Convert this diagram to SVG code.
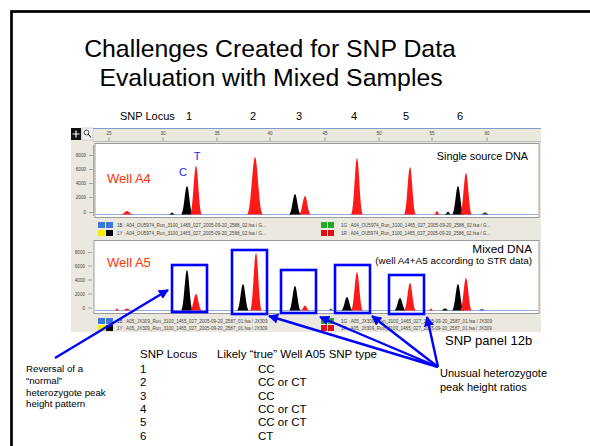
<svg xmlns="http://www.w3.org/2000/svg" width="590" height="446" viewBox="0 0 590 446">
<style>
.t{font-family:"Liberation Sans",Arial,sans-serif;fill:#000}
.tiny{font-family:"Liberation Sans",Arial,sans-serif;font-size:4.6px;fill:#444}
.pk{fill:#000}
.pr{fill:#ff1a1a}
.box{fill:none;stroke:#0000ff;stroke-width:2.6}
.arr{stroke:#0000ff;stroke-width:2.4;fill:none;marker-end:url(#ah)}
.panel{fill:#fff;stroke:#9a9a9a;stroke-width:1}
.base{stroke:#8fb0e0;stroke-width:1}
</style>
<defs>
<marker id="ah" viewBox="0 0 10 10" refX="9" refY="5" markerWidth="4.2" markerHeight="4.2" orient="auto" markerUnits="strokeWidth">
<path d="M0,0 L10,5 L0,10 Z" fill="#0000ff"/>
</marker>
</defs>
<rect width="590" height="446" fill="#fff"/>
<rect x="11.5" y="11.5" width="620" height="480" fill="none" stroke="#000" stroke-width="2.7"/>

<g id="title">
<text class="t" x="270" y="57" font-size="24.8" text-anchor="middle">Challenges Created for SNP Data</text>
<text class="t" x="271" y="86" font-size="24.8" text-anchor="middle">Evaluation with Mixed Samples</text>
</g>

<g id="locus-labels" class="t" font-size="11">
<text class="t" x="120" y="120">SNP Locus</text>
<text class="t" x="189" y="120" text-anchor="middle">1</text>
<text class="t" x="253" y="120" text-anchor="middle">2</text>
<text class="t" x="299" y="120" text-anchor="middle">3</text>
<text class="t" x="354" y="120" text-anchor="middle">4</text>
<text class="t" x="406" y="120" text-anchor="middle">5</text>
<text class="t" x="460" y="120" text-anchor="middle">6</text>
</g>

<g id="screenshot">
<rect x="71" y="128" width="470" height="204" fill="#ebe9df"/>
<line x1="93" y1="128.5" x2="541" y2="128.5" stroke="#7f9bc8" stroke-width="1"/>
<rect x="71" y="128" width="10" height="12" fill="#111"/>
<path d="M76,130.5 V137.5 M72.5,134 H79.5" stroke="#fff" stroke-width="1.2"/>
<rect x="82" y="128" width="11" height="12" fill="#f4f4f4" stroke="#aaa" stroke-width="0.5"/>
<circle cx="86.5" cy="132.5" r="2.4" fill="none" stroke="#333" stroke-width="0.9"/>
<line x1="88.2" y1="134.2" x2="91" y2="137.5" stroke="#333" stroke-width="1.1"/>
<line x1="93" y1="141.5" x2="541" y2="141.5" stroke="#b5b3aa" stroke-width="0.8"/>
<g class="tiny">
<text x="109" y="135" text-anchor="middle">25</text>
<text x="163" y="135" text-anchor="middle">30</text>
<text x="217" y="135" text-anchor="middle">35</text>
<text x="270" y="135" text-anchor="middle">40</text>
<text x="325" y="135" text-anchor="middle">45</text>
<text x="379" y="135" text-anchor="middle">50</text>
<text x="432" y="135" text-anchor="middle">55</text>
<text x="487" y="135" text-anchor="middle">60</text>
</g>
<path d="M109,137.5V141 M163,137.5V141 M217,137.5V141 M270,137.5V141 M325,137.5V141 M379,137.5V141 M432,137.5V141 M487,137.5V141" stroke="#777" stroke-width="0.7"/>

<!-- upper panel -->
<rect class="panel" x="95" y="143.5" width="444" height="74"/>
<line x1="93.5" y1="145" x2="93.5" y2="216" stroke="#888" stroke-width="0.7"/>
<g class="tiny" text-anchor="end">
<text x="86" y="157">8000</text>
<text x="86" y="171">6000</text>
<text x="86" y="185">4000</text>
<text x="86" y="199">2000</text>
<text x="86" y="214">0</text>
</g>
<path d="M89,155.5H93 M89,169.5H93 M89,183.5H93 M89,197.5H93 M89,212.5H93" stroke="#888" stroke-width="0.7"/>
<line class="base" x1="96" y1="214.5" x2="538" y2="214.5"/>
<path class="pr" d="M120,214.5 C124,214.5 125,211 127,211 C129,211 130,214.5 134,214.5 Z"/>
<path class="pk" d="M168,214.5 C171,214.5 171,212.5 172,212.5 C173,212.5 173,214.5 176,214.5 Z"/>
<path class="pk" d="M181,214.5 C184,214.5 185,186 187,186 C189,186 190,214.5 193,214.5 Z"/>
<path class="pr" d="M190,214.5 C193,214.5 194,166 196,166 C198,166 199,214.5 202,214.5 Z"/>
<path class="pr" d="M247,214.5 C251,214.5 252.5,157 255,157 C257.5,157 259,214.5 263,214.5 Z"/>
<path class="pk" d="M289,214.5 C292,214.5 293,194 295,194 C297,194 298,214.5 301,214.5 Z"/>
<path class="pr" d="M299,214.5 C302,214.5 303,196 305,196 C307,196 308,214.5 311,214.5 Z"/>
<path class="pr" d="M351,214.5 C354,214.5 355,158 357,158 C359,158 360,214.5 363,214.5 Z"/>
<path class="pr" d="M404,214.5 C407,214.5 408,167 410,167 C412,167 413,214.5 416,214.5 Z"/>
<path class="pr" d="M433,214.5 C436,214.5 436,211 437,211 C438,211 438,214.5 441,214.5 Z"/>
<path class="pk" d="M444,214.5 C447,214.5 447,211.5 448,211.5 C449,211.5 449,214.5 452,214.5 Z"/>
<path class="pk" d="M452,214.5 C455,214.5 456,186 458,186 C460,186 461,214.5 464,214.5 Z"/>
<path class="pr" d="M460,214.5 C463,214.5 464,173 466,173 C468,173 469,214.5 472,214.5 Z"/>
<path d="M480,214.5 C483,214.5 483,212.5 485,212.5 C487,212.5 487,214.5 490,214.5 Z" fill="#2a3a5a"/>

<!-- upper legend -->
<rect x="98" y="222" width="7" height="6" fill="#3f78d8"/>
<rect x="106" y="222" width="7" height="6" fill="#3f78d8"/>
<rect x="98" y="230" width="7" height="6" fill="#f0f000"/>
<rect x="106" y="230" width="7" height="6" fill="#000"/>
<rect x="321" y="222" width="6" height="6" fill="#22aa22"/>
<rect x="328" y="222" width="6" height="6" fill="#22aa22"/>
<rect x="321" y="230" width="6" height="6" fill="#dd1111"/>
<rect x="328" y="230" width="6" height="6" fill="#dd1111"/>
<g class="tiny">
<text x="117" y="227">1B : A04_OU5974_Run_3100_1465_027_2005-09-20_2588_02.fsa / G...</text>
<text x="117" y="235">1Y : A04_OU5974_Run_3100_1465_027_2005-09-20_2588_02.fsa / G...</text>
<text x="341" y="227">1G : A04_OU5974_Run_3100_1465_027_2005-09-20_2588_02.fsa / G...</text>
<text x="341" y="235">1R : A04_OU5974_Run_3100_1465_027_2005-09-20_2588_02.fsa / G...</text>
</g>

<!-- lower panel -->
<rect class="panel" x="94" y="240.5" width="445" height="73"/>
<g class="tiny" text-anchor="end">
<text x="85" y="254">8000</text>
<text x="85" y="267.5">6000</text>
<text x="85" y="281.5">4000</text>
<text x="85" y="295.5">2000</text>
<text x="85" y="309.5">0</text>
</g>
<path d="M88,252.5H92 M88,266H92 M88,280H92 M88,294H92 M88,308H92" stroke="#888" stroke-width="0.7"/>
<line class="base" x1="95" y1="310.5" x2="538" y2="310.5"/>
<path class="pr" d="M114,310.5 C116,310.5 116,308.5 117,308.5 C118,308.5 118,310.5 120,310.5 Z"/>
<path class="pr" d="M123,310.5 C125,310.5 125,308.5 127,308.5 C129,308.5 129,310.5 131,310.5 Z"/>
<path class="pk" d="M181,310.5 C184,310.5 185,270 187,270 C189,270 190,310.5 193,310.5 Z"/>
<path class="pr" d="M190,310.5 C193,310.5 194,294 196,294 C198,294 199,310.5 202,310.5 Z"/>
<path class="pk" d="M237,310.5 C240,310.5 241,284 243,284 C245,284 246,310.5 249,310.5 Z"/>
<path class="pr" d="M250,310.5 C253,310.5 254,253 256,253 C258,253 259,310.5 262,310.5 Z"/>
<path class="pk" d="M289,310.5 C292,310.5 293,286 295,286 C297,286 298,310.5 301,310.5 Z"/>
<path class="pr" d="M300,310.5 C303,310.5 303.5,305.5 305,305.5 C306.5,305.5 307,310.5 310,310.5 Z"/>
<path d="M328,310.5 C330,310.5 330,308.5 331,308.5 C332,308.5 332,310.5 334,310.5 Z" fill="#3a5a9a"/>
<path class="pk" d="M341,310.5 C344,310.5 345,297 347,297 C349,297 350,310.5 353,310.5 Z"/>
<path class="pr" d="M351,310.5 C354,310.5 355,272 357,272 C359,272 360,310.5 363,310.5 Z"/>
<path class="pk" d="M394,310.5 C397,310.5 398,298 400,298 C402,298 403,310.5 406,310.5 Z"/>
<path class="pr" d="M404,310.5 C407,310.5 408,283 410,283 C412,283 413,310.5 416,310.5 Z"/>
<path class="pr" d="M428,310.5 C430,310.5 430,308.5 431,308.5 C432,308.5 432,310.5 434,310.5 Z"/>
<path class="pk" d="M441,310.5 C443,310.5 443,308.5 445,308.5 C447,308.5 447,310.5 449,310.5 Z"/>
<path class="pk" d="M452,310.5 C455,310.5 456,284 458,284 C460,284 461,310.5 464,310.5 Z"/>
<path class="pr" d="M460,310.5 C463,310.5 464,278 466,278 C468,278 469,310.5 472,310.5 Z"/>
<path d="M478,310.5 C480,310.5 480,309 482,309 C484,309 484,310.5 486,310.5 Z" fill="#3a5a9a"/>

<!-- lower legend -->
<rect x="98" y="318" width="7" height="6" fill="#3f78d8"/>
<rect x="106" y="318" width="7" height="6" fill="#3f78d8"/>
<rect x="98" y="325" width="7" height="6" fill="#f0f000"/>
<rect x="106" y="325" width="7" height="6" fill="#000"/>
<rect x="321" y="318" width="6" height="6" fill="#22aa22"/>
<rect x="328" y="318" width="6" height="6" fill="#22aa22"/>
<rect x="321" y="325" width="6" height="6" fill="#dd1111"/>
<rect x="328" y="325" width="6" height="6" fill="#dd1111"/>
<g class="tiny">
<text x="117" y="323">1B : A05_JX309_Run_3100_1465_027_2005-09-20_2587_01.fsa / JX309</text>
<text x="117" y="330">1Y : A05_JX309_Run_3100_1465_027_2005-09-20_2587_01.fsa / JX309</text>
<text x="341" y="323">1G : A05_JX309_Run_3100_1465_027_2005-09-20_2587_01.fsa / JX309</text>
<text x="341" y="330">1R : A05_JX309_Run_3100_1465_027_2005-09-20_2587_01.fsa / JX309</text>
</g>
</g>

<g id="panel-labels">
<text x="107" y="183" font-family="Liberation Sans,Arial,sans-serif" font-size="13" fill="#ff3300">Well A4</text>
<text x="107" y="267" font-family="Liberation Sans,Arial,sans-serif" font-size="13" fill="#ff3300">Well A5</text>
<text x="183" y="176" font-family="Liberation Sans,Arial,sans-serif" font-size="11" fill="#2222ee" text-anchor="middle">C</text>
<text x="197" y="160" font-family="Liberation Sans,Arial,sans-serif" font-size="11" fill="#2222ee" text-anchor="middle">T</text>
<text class="t" x="528" y="160" font-size="10.8" text-anchor="end">Single source DNA</text>
<text class="t" x="532" y="253" font-size="11.8" text-anchor="end">Mixed DNA</text>
<text class="t" x="532" y="264" font-size="9.9" text-anchor="end">(well A4+A5 according to STR data)</text>
<text class="t" x="445" y="345" font-size="13">SNP panel 12b</text>
</g>

<g id="highlight-boxes">
<rect class="box" x="172" y="265" width="35" height="47"/>
<rect class="box" x="232" y="250" width="35" height="64"/>
<rect class="box" x="281" y="270" width="35" height="43"/>
<rect class="box" x="335" y="265" width="35" height="48"/>
<rect class="box" x="389" y="275" width="35" height="39"/>
</g>

<g id="connectors">
<line class="arr" x1="55" y1="358" x2="168" y2="290"/>
<line class="arr" x1="438" y1="367" x2="269" y2="316"/>
<line class="arr" x1="438" y1="367" x2="320" y2="317"/>
<line class="arr" x1="438" y1="367" x2="372" y2="316"/>
<line class="arr" x1="438" y1="367" x2="427" y2="317"/>
</g>

<g id="callout-reversal" class="t" font-size="9.7">
<text class="t" x="26" y="372">Reversal of a</text>
<text class="t" x="26" y="383.5">“normal”</text>
<text class="t" x="26" y="395.5">heterozygote peak</text>
<text class="t" x="26" y="407">height pattern</text>
</g>

<g id="callout-unusual" class="t" font-size="11">
<text class="t" x="440" y="377">Unusual heterozygote</text>
<text class="t" x="440" y="391">peak height ratios</text>
</g>

<g id="table" class="t" font-size="11.5">
<text class="t" x="140" y="358">SNP Locus</text>
<text class="t" x="217" y="358">Likely “true” Well A05 SNP type</text>
<text class="t" x="140" y="373">1</text><text class="t" x="258" y="373">CC</text>
<text class="t" x="140" y="386">2</text><text class="t" x="258" y="386">CC or CT</text>
<text class="t" x="140" y="399.5">3</text><text class="t" x="258" y="399.5">CC</text>
<text class="t" x="140" y="413">4</text><text class="t" x="258" y="413">CC or CT</text>
<text class="t" x="140" y="426">5</text><text class="t" x="258" y="426">CC or CT</text>
<text class="t" x="140" y="439.5">6</text><text class="t" x="258" y="439.5">CT</text>
</g>
</svg>
